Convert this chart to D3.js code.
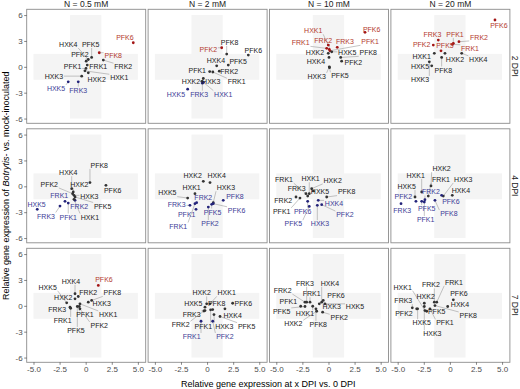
<!DOCTYPE html>
<html><head><meta charset="utf-8">
<script src="https://cdn.jsdelivr.net/npm/d3@7"></script>
<style>body{margin:0;background:#fff}svg{display:block}</style>
</head><body><svg id="chart" width="520" height="389"></svg>
<script>
const concentrations = ["N = 0.5 mM", "N = 2 mM", "N = 10 mM", "N = 20 mM"];
const timepoints = ["2 DPI", "4 DPI", "7 DPI"];
const xTicks = [-5, -2.5, 0, 2.5, 5];
const xTickLabels = ["-5.0", "-2.5", "0", "2.5", "5.0"];
const yTicks = [-6, -3, 0, 3, 6];
const yTickLabels = ["-6", "-3", "0", "3", "6"];

// rows: gene, x (vs 0 DPI), y (Botrytis vs mock), regulation (u/d/n), label x, label y
const d2_05 = [
  ["PFK6",4.56,2.79,"u",3.76,3.42],["PFK8",1.30,1.63,"u",2.64,1.36],["PFK5",0.57,1.09,"n",0.48,2.60],
  ["HXK4",0.25,0.85,"n",-1.67,2.60],["PFK2",0.05,0.65,"n",-0.55,1.48],["FRK1",0.15,0.2,"n",1.21,0],
  ["PFK1",0.03,-0.19,"n",-1.25,0.08],["FRK2",1.69,0.78,"n",3.6,0],["HXK3",-0.38,-1.08,"n",-3.04,-1.16],
  ["HXK2",0.25,-0.7,"n",1.05,-1.43],["HXK1",-0.07,-0.47,"n",3.22,-1.28],["HXK5",-1.67,-1.74,"d",-2.84,-2.51],
  ["FRK3",-0.71,-1.74,"d",-0.71,-2.71]];
const d2_2 = [
  ["PFK8",1.88,1.48,"n",2.16,2.84],["PFK2",1.40,2.21,"u",0.12,2.02],["PFK6",3.95,1.36,"n",4.43,1.94],
  ["HXK4",0.92,0.12,"n",0.85,0.78],["PFK5",2.03,0.2,"n",2.98,0.58],["PFK1",0.25,-0.55,"n",-0.94,-0.47],
  ["FRK2",1.17,-0.5,"n",2.13,-0.54],["FRK1",0.55,-0.6,"n",2.83,-1.74],["HXK3",-0.36,-1.35,"n",0.40,-1.74],
  ["HXK2",-0.5,-1.7,"n",-1.54,-1.66],["HXK5",-1.86,-2.59,"d",-2.98,-3.17],["FRK3",-0.45,-1.9,"d",-0.75,-3.17],
  ["HXK1",-0.35,-1.8,"d",1.55,-3.17]];
const d2_10 = [
  ["PFK6",3.50,4.0,"u",4.14,4.35],["HXK1",-0.02,2.52,"u",-1.46,4.19],["FRK2",0.08,2.02,"u",-0.5,3.02],
  ["FRK3",0.84,2.26,"u",1.58,2.91],["PFK1",0.14,1.86,"u",3.98,2.91],["FRK1",-0.17,2.14,"u",-2.66,2.79],
  ["HXK2",-0.02,1.56,"n",-1.29,1.63],["HXK5",0.31,1.74,"n",1.80,1.63],["PFK8",1.17,1.09,"n",3.81,1.63],
  ["PFK2",1.26,0.66,"n",2.38,0.51],["HXK4",0.05,1.09,"n",-1.2,0.58],["HXK3",0.08,0,"n",-1.13,-1.12],
  ["PFK5",0.1,-0.1,"n",1.1,-1.05]];
const d2_20 = [
  ["PFK6",4.32,5.43,"u",4.70,4.73],["FRK3",-1.11,3.1,"u",-1.68,3.77],["PFK1",0.33,2.72,"u",0.49,3.77],
  ["FRK2",0.87,2.91,"u",2.79,3.42],["PFK2",-1.59,2.52,"u",-2.7,2.6],["PFK5",-0.85,1.86,"u",-0.47,2.41],
  ["FRK1",0.23,2.6,"u",1.93,2.14],["HXK1",-1.49,1.56,"n",-2.7,1.24],["HXK2",-0.47,1.56,"n",0.49,0.86],
  ["HXK4",1.13,1.56,"n",2.72,0.86],["HXK5",-1.74,0.12,"n",-2.86,0],["PFK8",-0.79,1.09,"n",-0.63,-0.38],
  ["HXK3",-1.97,0.58,"n",-2.86,-1.47]];
const d4_05 = [
  ["HXK4",-1.34,-0.27,"n",-1.67,1.59],["PFK8",0.41,0.43,"n",1.30,2.44],["PFK6",1.94,0.12,"n",2.59,-0.5],
  ["PFK2",-1.25,-0.85,"n",-3.49,0.23],["HXK2",-1.19,-0.66,"n",-0.61,0.23],["FRK1",-1.98,-1.74,"d",-2.53,-1.05],
  ["HXK3",-1.12,-1.05,"n",0.35,-1.13],["FRK2",-1.02,-1.63,"d",-0.61,-2.29],["PFK5",-1.02,-1.24,"n",1.63,-2.29],
  ["HXK5",-4.64,-2.67,"d",-4.7,-2.13],["FRK3",-2.46,-2.29,"d",-3.8,-3.45],["PFK1",-1.67,-1.94,"d",-1.67,-3.57],
  ["HXK1",-1.12,-1.51,"n",0.41,-3.57]];
const d4_2 = [
  ["HXK2",-0.36,0.58,"n",-1.38,1.28],["HXK4",0.28,0.43,"n",0.92,1.2],["HXK1",-1.16,-0.85,"n",-1.48,-0.15],
  ["HXK3",0.59,-1.9,"n",1.81,-0.15],["HXK5",-1.86,-1.36,"n",-3.81,-0.78],["FRK2",-1.0,-1.9,"d",-0.36,-1.36],
  ["PFK8",1.55,-1.63,"d",2.67,-1.24],["FRK3",-1.64,-2.21,"d",-2.91,-2.09],["PFK6",0.59,-2.01,"d",2.83,-2.79],
  ["PFK5",0.44,-2.09,"d",0.53,-2.99],["PFK1",-1.06,-2.67,"d",-1.95,-3.29],["PFK2",0.12,-2.41,"d",0.28,-4.34],
  ["FRK1",-1.16,-2.01,"d",-2.76,-4.62]];
const d4_10 = [
  ["FRK1",-2.16,-0.85,"n",-4.26,0.78],["HXK1",-1.84,-0.85,"n",-1.71,0.89],["HXK2",-1.61,-0.27,"n",0.40,0.70],
  ["FRK3",-1.99,-1.13,"n",-3.05,-0.27],["HXK5",-1.45,-0.54,"n",-0.81,-0.66],["PFK8",-0.17,-1.24,"n",1.74,-0.66],
  ["FRK2",-3.11,-1.24,"n",-4.33,-1.66],["HXK4",-0.98,-1.63,"d",0.53,-2.01],["PFK1",-2.73,-1.36,"n",-4.48,-2.91],
  ["PFK6",-1.99,-1.74,"d",-2.47,-2.91],["PFK2",-0.65,-2.13,"d",1.58,-3.29],["PFK5",-1.84,-2.33,"d",-3.37,-4.34],
  ["HXK3",-1.07,-2.21,"d",-0.81,-4.34]];
const d4_20 = [
  ["HXK2",-1.81,0.04,"n",-0.79,2.06],["HXK1",-2.7,-0.66,"n",-3.28,1.28],["FRK1",-2.07,-1.13,"n",-0.85,0.81],
  ["HXK3",-0.63,-1.13,"n",1.28,0.81],["HXK5",-3.34,-1.24,"n",-4.14,0],["FRK2",-2.39,-1.55,"d",-1.81,-0.66],
  ["HXK4",0.23,-1.05,"n",1.06,-0.54],["PFK2",-3.25,-1.74,"d",-4.46,-1.24],["PFK6",-0.79,-1.05,"d",0.10,-1.82],
  ["FRK3",-4.68,-2.01,"d",-4.56,-2.79],["PFK5",-2.7,-1.74,"d",-2.22,-2.59],["PFK8",-1.43,-1.63,"d",-0.09,-3.17],
  ["PFK1",-2.45,-1.82,"d",-2.32,-3.87]];
const d7_05 = [
  ["PFK6",1.21,2.36,"u",1.75,3.02],["HXK4",-1.02,1.4,"n",-1.41,2.86],["HXK5",-1.82,0.35,"n",-3.64,2.16],
  ["FRK2",-0.71,1.08,"n",0.25,1.58],["PFK8",0.57,0.62,"n",2.55,1.51],["HXK2",-1.02,0.81,"n",-2.15,0.93],
  ["HXK3",0.25,0.42,"n",1.53,0.23],["FRK3",-1.5,-0.16,"n",-2.72,-0.43],["PFK1",-0.61,-0.08,"n",-0.07,-1.01],
  ["HXK1",-0.55,0.23,"n",2.16,-1.01],["FRK1",-1.44,-0.28,"n",-2.2,-1.71],["PFK2",-0.55,-0.35,"n",1.3,-2.29],
  ["PFK5",-0.8,-0.08,"n",-0.93,-2.87]];
const d7_2 = [
  ["HXK2",-0.04,0.23,"n",-0.52,1.51],["HXK1",0.28,0.23,"n",1.88,1.51],["HXK5",-0.2,-0.16,"n",-1.32,0.30],
  ["PFK8",0.54,-0.43,"n",0.92,0.30],["PFK6",2.45,0.3,"n",3.47,0.30],["FRK3",-0.2,-0.55,"n",-1.48,-1.01],
  ["HXK4",1.71,-0.35,"n",2.45,-1.13],["FRK2",-0.3,-0.6,"n",-2.53,-2.21],["PFK1",0.34,-0.47,"n",-0.36,-2.37],
  ["HXK3",0.66,-1.01,"n",1.65,-2.37],["PFK5",1.24,-1.24,"n",3.79,-2.37],["FRK1",-0.58,-1.79,"d",-1.48,-3.57],
  ["PFK2",0.54,-1.79,"d",1.71,-3.57]];
const d7_10 = [
  ["FRK3",-2.09,0.42,"n",-2.25,2.63],["HXK4",-0.65,0.42,"n",0.14,2.63],["FRK2",-2.25,0.42,"n",-4.39,1.78],
  ["FRK1",-1.77,0.42,"n",-1.61,1.40],["PFK6",-0.50,0.62,"n",0.72,1.2],["PFK1",-2.66,-0.05,"n",-3.85,0.53],
  ["HXK3",-0.88,0.23,"n",0.31,-0.08],["HXK5",-0.34,0.23,"n",2.54,-0.08],["PFK5",-2.25,-0.08,"n",-4.48,-0.66],
  ["HXK1",-1.51,-0.05,"n",-2.25,-0.93],["PFK2",-0.56,-0.74,"n",1.03,-1.4],["HXK2",-1.13,-0.63,"n",-3.37,-2.09],
  ["PFK8",-1.2,-0.35,"n",-0.98,-2.17]];
const d7_20 = [
  ["HXK1",-2.39,-0.55,"n",-4.52,2.16],["FRK2",-1.49,0.42,"n",-1.81,2.44],["FRK1",-1.26,0.42,"n",0.39,2.74],
  ["PFK6",0.33,0.70,"n",0.87,1.47],["HXK2",-2.45,0.3,"n",-2.32,1.08],["FRK3",-3.6,-0.23,"n",-4.46,0.62],
  ["HXK4",-0.21,-0.08,"n",0.97,0.12],["PFK5",-2.22,-0.63,"n",-1.26,-0.63],["PFK2",-3.18,-0.35,"n",-4.4,-0.86],
  ["PFK8",-1.43,0.03,"n",1.76,-1.13],["HXK5",-3.09,-0.35,"n",-2.7,-1.98],["PFK1",-1.91,-0.35,"n",-0.47,-1.98],
  ["HXK3",-2.45,-0.08,"n",-1.68,-3.26]];

const panels = [
  [d2_05, d2_2, d2_10, d2_20],
  [d4_05, d4_2, d4_10, d4_20],
  [d7_05, d7_2, d7_10, d7_20]];

// layout
const FONT = "'Liberation Sans', Arial, Helvetica, sans-serif";
const panelW = 119, panelH = 114, left0 = 26.7, top0 = 9.3, colStep = 121.4, rowStep = 119.5;
const xDomain = [-5.65, 5.75], yDomain = [-6.55, 6.67];
const pointColor = {u: "#a31515", d: "#23237a", n: "#333333"};
const textColor = {u: "#b33a2e", d: "#3c3c96", n: "#222222"};

const svg = d3.select("#chart").style("font-family", FONT);

panels.forEach((row, ri) => {
  row.forEach((data, ci) => {
    const x0 = left0 + ci * colStep, y0 = top0 + ri * rowStep;
    const x = d3.scaleLinear().domain(xDomain).range([x0, x0 + panelW]);
    const y = d3.scaleLinear().domain(yDomain).range([y0 + panelH, y0]);
    const g = svg.append("g");
    g.append("rect").attr("x", x0).attr("y", y0).attr("width", panelW).attr("height", panelH).attr("fill", "#fff");
    // background cross
    g.append("rect").attr("x", x(-1.5)).attr("y", y(6)).attr("width", x(1.5) - x(-1.5)).attr("height", y(-6) - y(6)).attr("fill", "#f4f4f4");
    g.append("rect").attr("x", x(-5)).attr("y", y(1.5)).attr("width", x(5) - x(-5)).attr("height", y(-1.5) - y(1.5)).attr("fill", "#f4f4f4");

    const segLayer = g.append("g");
    const ptLayer = g.append("g");
    const txtLayer = g.append("g");

    ptLayer.selectAll("circle").data(data).join("circle")
      .attr("cx", d => x(d[1])).attr("cy", d => y(d[2])).attr("r", 1.4)
      .attr("fill", d => pointColor[d[3]]);

    const labels = txtLayer.selectAll("text").data(data).join("text")
      .attr("x", d => x(d[4])).attr("y", d => y(d[5])).attr("dy", "0.35em")
      .attr("text-anchor", "middle").attr("font-size", 7)
      .attr("fill", d => textColor[d[3]]).text(d => d[0]);

    labels.each(function(d) {
      const w = this.getComputedTextLength();
      const cx = x(d[4]), cy = y(d[5]);
      const bx0 = cx - w / 2 - 0.8, bx1 = cx + w / 2 + 0.8, by0 = cy - 3.6, by1 = cy + 3.6;
      const px = x(d[1]), py = y(d[2]);
      const qx = Math.max(bx0, Math.min(bx1, px)), qy = Math.max(by0, Math.min(by1, py));
      const dist = Math.hypot(qx - px, qy - py);
      if (dist > 3.5) {
        segLayer.append("line").attr("x1", px).attr("y1", py).attr("x2", qx).attr("y2", qy)
          .attr("stroke", "#8a8a8a").attr("stroke-width", 0.5);
      }
    });

    g.append("rect").attr("x", x0).attr("y", y0).attr("width", panelW).attr("height", panelH)
      .attr("fill", "none").attr("stroke", "#8c8c8c").attr("stroke-width", 0.9);

    if (ci === 0) {
      const ax = svg.append("g").attr("transform", `translate(${x0},0)`)
        .call(d3.axisLeft(y).tickValues(yTicks).tickFormat((v, i) => yTickLabels[i]).tickSize(2.5).tickPadding(1.5));
      ax.select(".domain").remove();
      ax.selectAll("line").attr("stroke", "#333").attr("stroke-width", 0.6);
      ax.selectAll("text").attr("font-size", 8).attr("fill", "#4d4d4d").attr("font-family", FONT);
    }
    if (ri === 2) {
      const ax = svg.append("g").attr("transform", `translate(0,${y0 + panelH})`)
        .call(d3.axisBottom(x).tickValues(xTicks).tickFormat((v, i) => xTickLabels[i]).tickSize(2.5).tickPadding(1.5));
      ax.select(".domain").remove();
      ax.selectAll("line").attr("stroke", "#333").attr("stroke-width", 0.6);
      ax.selectAll("text").attr("font-size", 8).attr("fill", "#4d4d4d").attr("font-family", FONT);
    }
    if (ri === 0) {
      svg.append("text").attr("x", x0 + panelW / 2).attr("y", 7).attr("text-anchor", "middle")
        .attr("font-size", 8.5).attr("fill", "#1a1a1a").text(concentrations[ci]);
    }
    if (ci === 3) {
      svg.append("text").attr("transform", `translate(512,${y0 + panelH / 2}) rotate(90)`)
        .attr("text-anchor", "middle").attr("font-size", 8.5).attr("fill", "#1a1a1a").text(timepoints[ri]);
    }
  });
});

// axis titles
svg.append("text").attr("x", left0 + (3 * colStep + panelW) / 2).attr("y", 387)
  .attr("text-anchor", "middle").attr("font-size", 9).attr("fill", "#000")
  .text("Relative gene expression at x DPI vs. 0 DPI");
const yt = svg.append("text").attr("transform", `translate(9,${top0 + (2 * rowStep + panelH) / 2}) rotate(-90)`)
  .attr("text-anchor", "middle").attr("font-size", 9).attr("fill", "#000");
yt.append("tspan").text("Relative gene expression of ");
yt.append("tspan").attr("font-style", "italic").text("Botrytis");
yt.append("tspan").text("- vs. mock-inoculated");
</script></body></html>
